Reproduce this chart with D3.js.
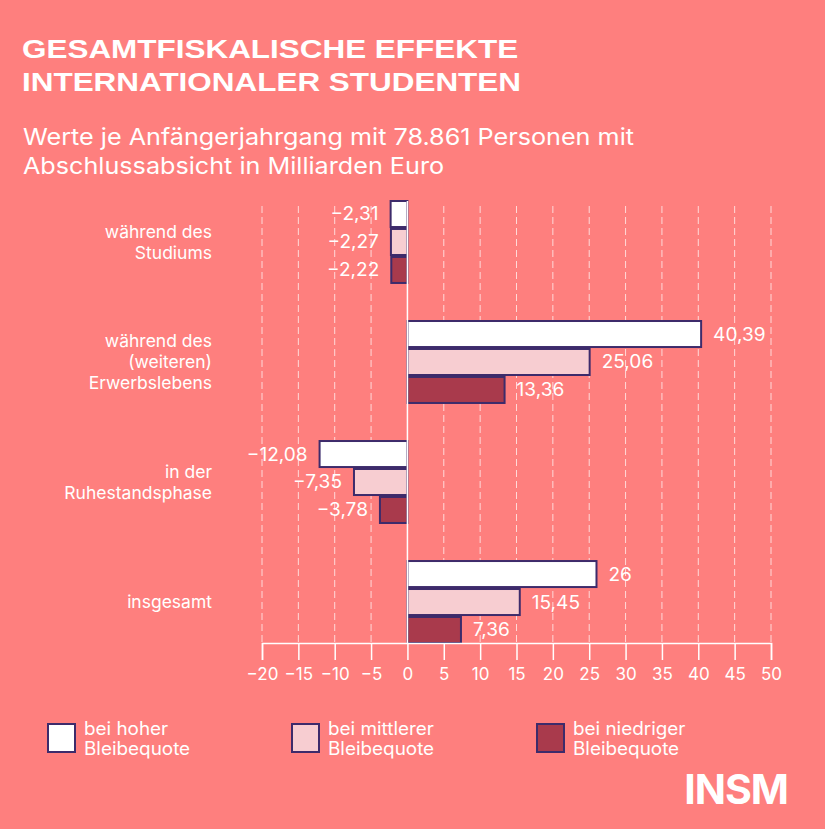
<!DOCTYPE html>
<html>
<head>
<meta charset="utf-8">
<script src="https://cdn.jsdelivr.net/npm/d3@7"></script>
<style>
  html, body { margin: 0; padding: 0; background: #fe7f7e; }
  svg { display: block; font-family: Inter, "Open Sans", sans-serif; }
</style>
</head>
<body>
<div class="canvas"></div>
<script>
const WIDTH = 825,
  HEIGHT = 829,
  BG = "#fe7f7e",
  STROKE = "#3d2b6b",
  COLORS = ["#ffffff", "#f7cdd1", "#a93a4c"];

const categories = [
  ["während des", "Studiums"],
  ["während des", "(weiteren)", "Erwerbslebens"],
  ["in der", "Ruhestandsphase"],
  ["insgesamt"],
];
const seriesNames = [
  ["bei hoher", "Bleibequote"],
  ["bei mittlerer", "Bleibequote"],
  ["bei niedriger", "Bleibequote"],
];
const hoch = [-2.31, 40.39, -12.08, 26];
const mittel = [-2.27, 25.06, -7.35, 15.45];
const niedrig = [-2.22, 13.36, -3.78, 7.36];
const ticks = [-20, -15, -10, -5, 0, 5, 10, 15, 20, 25, 30, 35, 40, 45, 50];

const series = [hoch, mittel, niedrig];

const locale = d3.formatLocale({
  decimal: ",",
  thousands: ".",
  grouping: [3],
  currency: ["", " €"],
  minus: "−",
});
const fmt = locale.format("~f");

const svg = d3
  .select(".canvas")
  .append("svg")
  .attr("width", WIDTH)
  .attr("height", HEIGHT);

svg.append("rect").attr("width", WIDTH).attr("height", HEIGHT).attr("fill", BG);

// stretched text block: the source font is wider than what we have
function textBlock(lines, x0, y0, lineHeight, size, stretch, weight, family) {
  const t = svg
    .append("text")
    .attr("transform", `translate(${x0},${y0}) scale(${stretch},1)`)
    .attr("fill", "#fff")
    .attr("font-size", size)
    .attr("font-weight", weight || 400);
  if (family) t.attr("font-family", family);
  lines.forEach((l, i) =>
    t.append("tspan").attr("x", 0).attr("y", i * lineHeight).text(l)
  );
  return t;
}

textBlock(
  ["GESAMTFISKALISCHE EFFEKTE", "INTERNATIONALER STUDENTEN"],
  22, 58, 33, 26, 1.21, 700, "'Liberation Sans', Arial, sans-serif"
);
textBlock(
  ["Werte je Anfängerjahrgang mit 78.861 Personen mit",
   "Abschlussabsicht in Milliarden Euro"],
  23, 145, 29, 23, 1.095, 400
);

// scales
const x = d3.scaleLinear().domain([-20, 50]).range([262, 771]);
const y = d3
  .scaleBand()
  .domain(d3.range(categories.length))
  .range([201, 643])
  .paddingInner(0.317)
  .paddingOuter(0);
const ySub = d3
  .scaleBand()
  .domain(d3.range(series.length))
  .range([0, y.bandwidth()])
  .paddingInner(0.07);

// gridlines
svg
  .append("g")
  .selectAll("line")
  .data(ticks.filter((t) => t !== 0))
  .join("line")
  .attr("x1", (d) => x(d))
  .attr("x2", (d) => x(d))
  .attr("y1", 206)
  .attr("y2", 643)
  .attr("stroke", "#fff")
  .attr("stroke-opacity", 0.7)
  .attr("stroke-dasharray", "7,4");

// bars
const group = svg
  .append("g")
  .selectAll("g")
  .data(categories)
  .join("g")
  .attr("transform", (d, i) => `translate(0,${y(i)})`);

group
  .selectAll("rect")
  .data((d, i) => series.map((s, j) => ({ v: s[i], j })))
  .join("rect")
  .attr("x", (d) => x(Math.min(0, d.v)))
  .attr("y", (d) => ySub(d.j))
  .attr("width", (d) => Math.abs(x(d.v) - x(0)))
  .attr("height", ySub.bandwidth())
  .attr("fill", (d) => COLORS[d.j])
  .attr("stroke", STROKE)
  .attr("stroke-width", 2);

group
  .selectAll("text.value")
  .data((d, i) => series.map((s, j) => ({ v: s[i], j })))
  .join("text")
  .attr("class", "value")
  .attr("transform", (d) => {
    const tx = d.v < 0 ? x(d.v) - 12 : x(d.v) + 12;
    return `translate(${tx},${ySub(d.j) + ySub.bandwidth() / 2}) scale(1.06,1)`;
  })
  .attr("dy", "0.36em")
  .attr("text-anchor", (d) => (d.v < 0 ? "end" : "start"))
  .attr("fill", "#fff")
  .attr("font-size", 18)
  .text((d) => fmt(d.v));

// category labels
group.each(function (lines) {
  const n = lines.length;
  const t = d3
    .select(this)
    .append("text")
    .attr("text-anchor", "end")
    .attr("fill", "#fff")
    .attr("font-size", 17.5);
  lines.forEach((l, k) =>
    t
      .append("tspan")
      .attr("x", 212)
      .attr("y", y.bandwidth() / 2 + (k - (n - 1) / 2) * 21)
      .attr("dy", "0.36em")
      .text(l)
  );
});

// zero line
svg
  .append("line")
  .attr("x1", x(0))
  .attr("x2", x(0))
  .attr("y1", 201)
  .attr("y2", 643)
  .attr("stroke", "#fff")
  .attr("stroke-width", 1.5);

// x axis
const axis = svg
  .append("g")
  .attr("transform", "translate(0,643)")
  .call(
    d3
      .axisBottom(x)
      .tickValues(ticks)
      .tickSize(17)
      .tickPadding(8)
      .tickFormat(locale.format("d"))
  );
axis.select(".domain").attr("stroke", "#fff").attr("stroke-width", 1.5);
axis.selectAll(".tick line").attr("stroke", "#fff").attr("stroke-width", 1.5);
axis
  .selectAll(".tick text")
  .attr("fill", "#fff")
  .attr("font-size", 17)
  .attr("font-family", "Inter, sans-serif");

// legend
const legendX = [48, 292, 537];
const legendItem = svg
  .append("g")
  .selectAll("g")
  .data(seriesNames)
  .join("g")
  .attr("transform", (d, i) => `translate(${legendX[i]},724)`);

legendItem
  .append("rect")
  .attr("width", 27)
  .attr("height", 28)
  .attr("fill", (d, i) => COLORS[i])
  .attr("stroke", STROKE)
  .attr("stroke-width", 2);

legendItem.each(function (lines) {
  const t = d3
    .select(this)
    .append("text")
    .attr("transform", "translate(36,11) scale(1.05,1)")
    .attr("fill", "#fff")
    .attr("font-size", 18);
  lines.forEach((l, k) =>
    t.append("tspan").attr("x", 0).attr("y", k * 20).text(l)
  );
});

// logo
svg
  .append("text")
  .attr("x", 788)
  .attr("y", 804)
  .attr("text-anchor", "end")
  .attr("fill", "#fff")
  .attr("font-weight", 700)
  .attr("font-size", 41)
  .attr("letter-spacing", -1)
  .text("INSM");
</script>
</body>
</html>
